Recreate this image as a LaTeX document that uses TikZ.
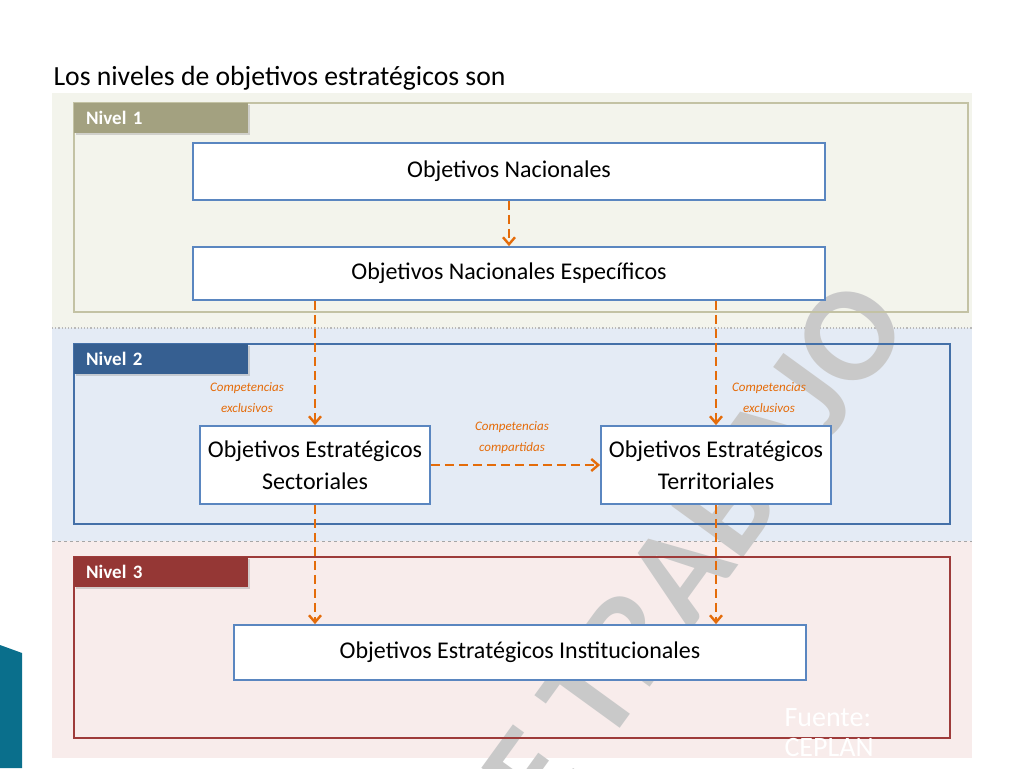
\documentclass[tikz,border=0pt]{standalone}
\usepackage{fontspec}
\setmainfont{Carlito}
\usetikzlibrary{arrows.meta,shadows}
\definecolor{naranja}{HTML}{E46C0A}
\definecolor{cajaazul}{HTML}{5A86C0}
\definecolor{fondo1}{HTML}{F3F4EC}
\definecolor{fondo2}{HTML}{E4EBF5}
\definecolor{fondo3}{HTML}{F8ECEB}
\definecolor{marco1}{HTML}{C3C2A4}
\definecolor{marco2}{HTML}{4470A8}
\definecolor{marco3}{HTML}{9E3B3A}
\definecolor{pest1}{HTML}{A3A180}
\definecolor{pest2}{HTML}{365F91}
\definecolor{pest3}{HTML}{953735}
\definecolor{turquesa}{HTML}{0A6F8C}
\begin{document}
\begin{tikzpicture}[x=1pt,y=-1pt,
  caja/.style={draw=cajaazul,line width=1.8pt,fill=white,inner sep=2pt,align=center,font=\fontsize{24}{32}\selectfont},
  flecha/.style={draw=naranja,line width=2.6pt,dash pattern=on 9pt off 5pt,-{Straight Barb[length=7pt,width=12pt,line width=2.4pt]}},
  nota/.style={text=naranja,align=center,font=\fontsize{13}{21}\selectfont\itshape},
  pestana/.style={anchor=north west,minimum height=30pt,text width=150pt,inner xsep=12pt,text=white,font=\fontsize{19}{20}\selectfont\bfseries,drop shadow={shadow xshift=1.5pt,shadow yshift=-1.5pt,opacity=.3}}]
\useasboundingbox (0,0) rectangle (1024,768);
\node (titulo) at (50,85) [anchor=base west,font=\fontsize{27.7}{30}\selectfont] {Los niveles de objetivos estratégicos son};
\fill[fondo1] (52,93) rectangle (972,328);
\fill[fondo2] (52,328) rectangle (972,541);
\fill[fondo3] (52,541) rectangle (972,758);
\draw[gray!55,dotted,line width=1.2pt] (52,328) -- (972,328);
\draw[gray!70,dashed,line width=.8pt] (52,541) -- (972,541);
\fill[turquesa] (0,645) -- (22,653) -- (22,768) -- (0,768) -- cycle;
\node (marca) at (695,550) [rotate=54,text=black!21,font=\fontsize{136}{136}\selectfont\bfseries] {E TRABAJO};
\draw[marco1,line width=1.2pt] (74,103) rectangle (968,312);
\draw[marco2,line width=1.2pt] (74,344) rectangle (950,524);
\draw[marco3,line width=1.2pt] (74,557) rectangle (950,738);
\node (n1) at (74,103) [pestana,fill=pest1] {Nivel 1};
\node (n2) at (74,344) [pestana,fill=pest2] {Nivel 2};
\node (n3) at (74,557) [pestana,fill=pest3] {Nivel 3};
\node (nac) at (509,171.5) [caja,minimum width=632pt,minimum height=57pt] {Objetivos Nacionales};
\node (nae) at (509,273.5) [caja,minimum width=632pt,minimum height=53pt] {Objetivos Nacionales Específicos};
\node (sec) at (315,465) [caja,minimum width=230pt,minimum height=78pt] {Objetivos Estratégicos\\Sectoriales};
\node (ter) at (716,465) [caja,minimum width=230pt,minimum height=78pt] {Objetivos Estratégicos\\Territoriales};
\node (ins) at (520,652.5) [caja,minimum width=572pt,minimum height=55pt] {Objetivos Estratégicos Institucionales};
\draw[flecha] (nac) -- (nae);
\draw[flecha] (nae.south -| sec) -- (sec);
\draw[flecha] (nae.south -| ter) -- (ter);
\draw[flecha] (sec) -- (ter);
\draw[flecha] (sec) -- (sec |- ins.north);
\draw[flecha] (ter) -- (ter |- ins.north);
\node (exsec) at (247,398) [nota] {Competencias\\exclusivos};
\node (exter) at (769,398) [nota] {Competencias\\exclusivos};
\node (comp) at (512,438) [nota] {Competencias\\compartidas};
\node (fuente) at (781,733) [anchor=west,align=left,text=white,font=\fontsize{28}{30}\selectfont] {Fuente:\\CEPLAN};
\end{tikzpicture}
\end{document}
